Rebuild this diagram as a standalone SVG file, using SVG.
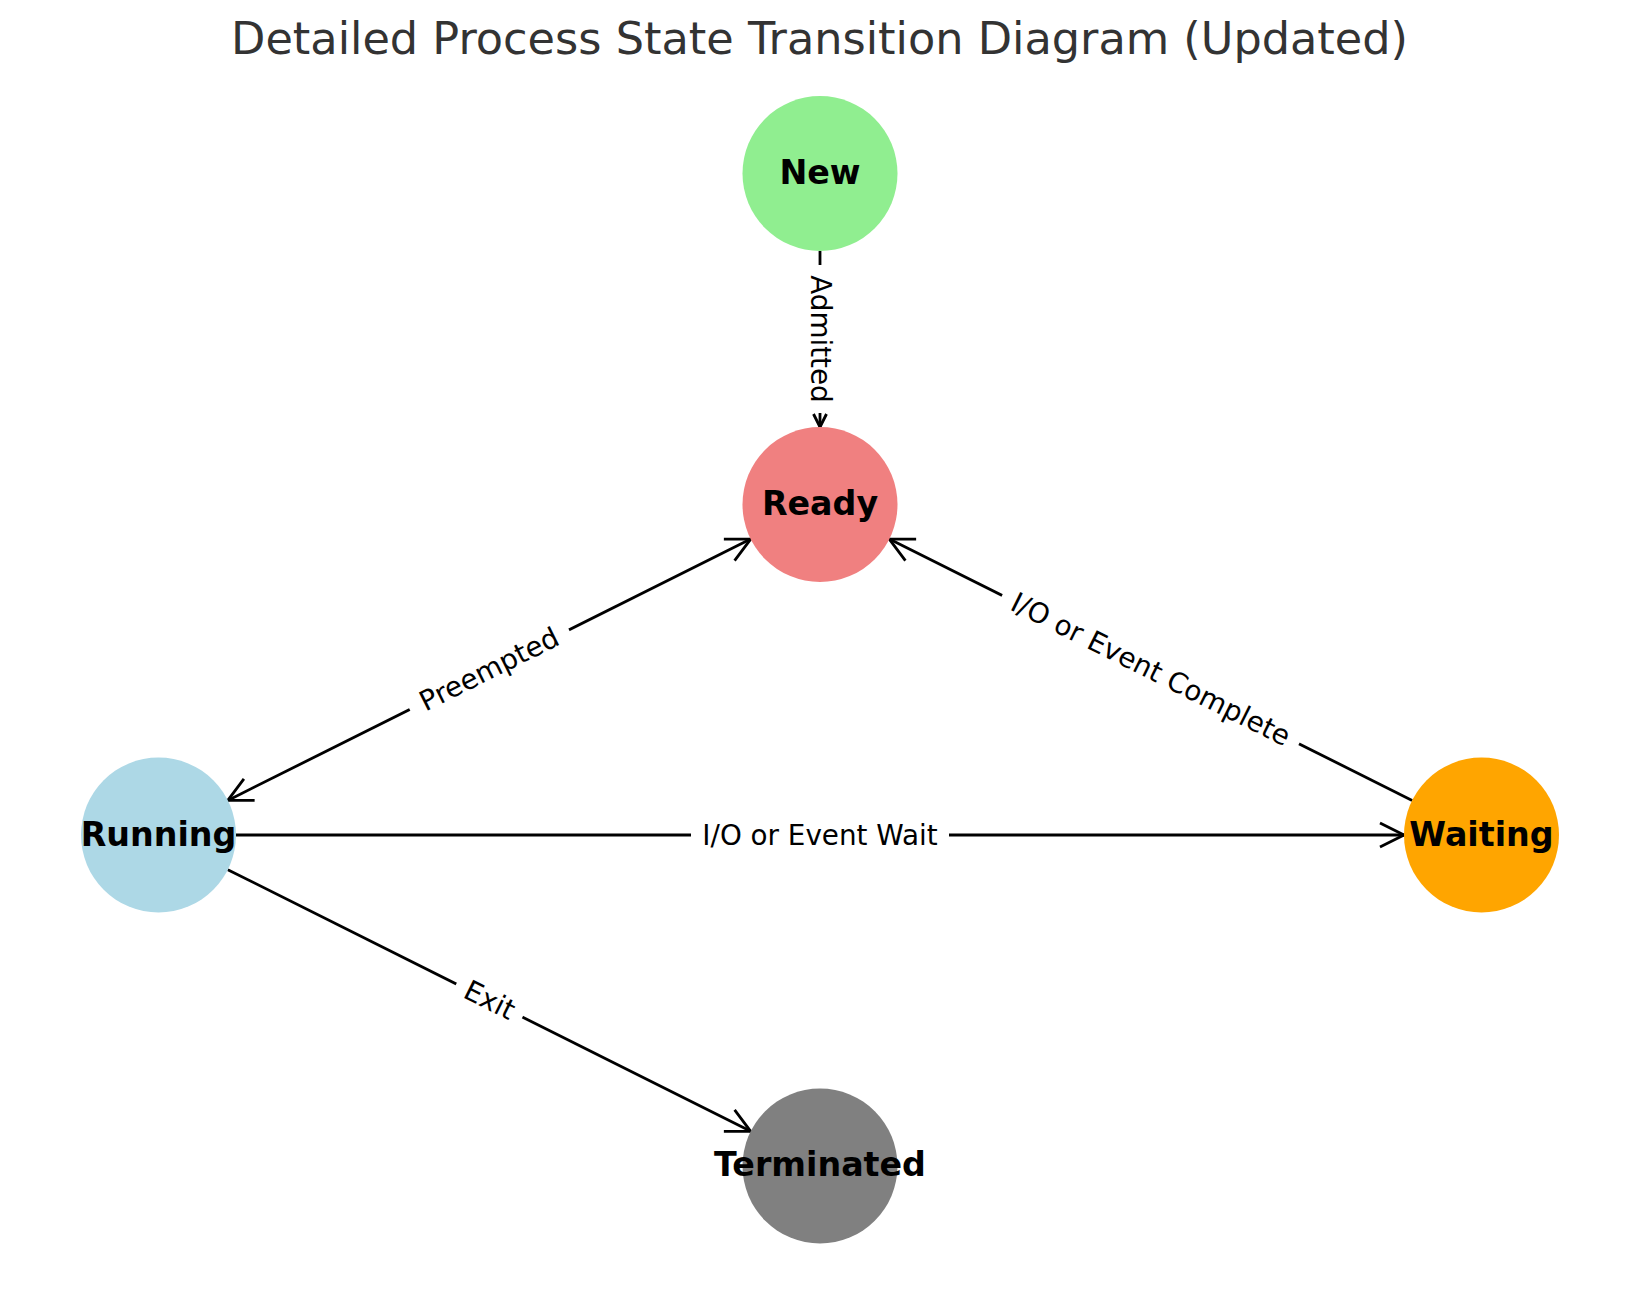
<svg xmlns="http://www.w3.org/2000/svg" width="1639" height="1290" viewBox="0 0 1639 1290">
  <style>
    .edge { stroke: #000000; stroke-width: 2.8; fill: none; }
    .lbox { fill: #ffffff; stroke: none; }
    .ltext { font-family: "DejaVu Sans", "Liberation Sans", sans-serif; font-size: 27.8px; fill: #000000; text-anchor: middle; }
    .ntext { font-family: "DejaVu Sans", "Liberation Sans", sans-serif; font-size: 33.3px; font-weight: bold; fill: #000000; text-anchor: middle; }
    .title { font-family: "DejaVu Sans", "Liberation Sans", sans-serif; font-size: 44.6px; fill: #333333; text-anchor: middle; }
  </style>
  <defs>
    <marker id="arrow" markerUnits="userSpaceOnUse" markerWidth="40" markerHeight="40" refX="0" refY="0" orient="auto-start-reverse" overflow="visible" viewBox="-30 -20 40 40">
      <path d="M -24 -12 L 0 0 L -24 12" fill="none" stroke="#000000" stroke-width="2.8" stroke-linejoin="miter"/>
    </marker>
    <marker id="arrowSmall" markerUnits="userSpaceOnUse" markerWidth="30" markerHeight="30" refX="0" refY="0" orient="auto" overflow="visible" viewBox="-20 -15 30 30">
      <path d="M -13 -6.5 L 0 0 L -13 6.5" fill="none" stroke="#000000" stroke-width="2.8" stroke-linejoin="miter"/>
    </marker>
  </defs>
  <rect x="0" y="0" width="1639" height="1290" fill="#ffffff"/>
  <text class="title" x="819.5" y="54">Detailed Process State Transition Diagram (Updated)</text>

  <g id="connectors">
    <line class="edge" x1="820" y1="251" x2="820" y2="427" marker-end="url(#arrowSmall)"/>
    <line class="edge" x1="227.8" y1="800.4" x2="750.7" y2="539.1" marker-start="url(#arrow)" marker-end="url(#arrow)"/>
    <line class="edge" x1="1412.2" y1="800.4" x2="889.3" y2="539.1" marker-end="url(#arrow)"/>
    <line class="edge" x1="236" y1="835" x2="1404" y2="835" marker-end="url(#arrow)"/>
    <line class="edge" x1="227.8" y1="869.7" x2="750.7" y2="1131.3" marker-end="url(#arrow)"/>

    <g transform="translate(820,339) rotate(90)">
      <rect class="lbox" x="-74" y="-26" width="148" height="52" rx="8"/>
      <text class="ltext" x="0" y="9">Admitted</text>
    </g>
    <g transform="translate(489.4,669.75) rotate(-26.56)">
      <rect class="lbox" x="-89" y="-26" width="178" height="52" rx="8"/>
      <text class="ltext" x="0" y="9">Preempted</text>
    </g>
    <g transform="translate(1150.5,669.75) rotate(26.56)">
      <rect class="lbox" x="-166" y="-26" width="332" height="52" rx="8"/>
      <text class="ltext" x="0" y="9">I/O or Event Complete</text>
    </g>
    <g transform="translate(820,835)">
      <rect class="lbox" x="-129" y="-26" width="258" height="52" rx="8"/>
      <text class="ltext" x="0" y="9.5">I/O or Event Wait</text>
    </g>
    <g transform="translate(489.4,1000.5) rotate(26.58)">
      <rect class="lbox" x="-37" y="-26" width="74" height="52" rx="8"/>
      <text class="ltext" x="0" y="9">Exit</text>
    </g>
  </g>

  <g id="node-new">
    <circle cx="820" cy="173.5" r="77.5" fill="#90EE90"/>
    <text class="ntext" x="820" y="184">New</text>
  </g>
  <g id="node-ready">
    <circle cx="820" cy="504.5" r="77.5" fill="#F08080"/>
    <text class="ntext" x="820" y="514.5">Ready</text>
  </g>
  <g id="node-running">
    <circle cx="158.5" cy="835" r="77.5" fill="#ADD8E6"/>
    <text class="ntext" x="158.5" y="846">Running</text>
  </g>
  <g id="node-waiting">
    <circle cx="1481.5" cy="835" r="77.5" fill="#FFA500"/>
    <text class="ntext" x="1481.5" y="846">Waiting</text>
  </g>
  <g id="node-terminated">
    <circle cx="820" cy="1166" r="77.5" fill="#808080"/>
    <text class="ntext" x="820" y="1176">Terminated</text>
  </g>
</svg>
